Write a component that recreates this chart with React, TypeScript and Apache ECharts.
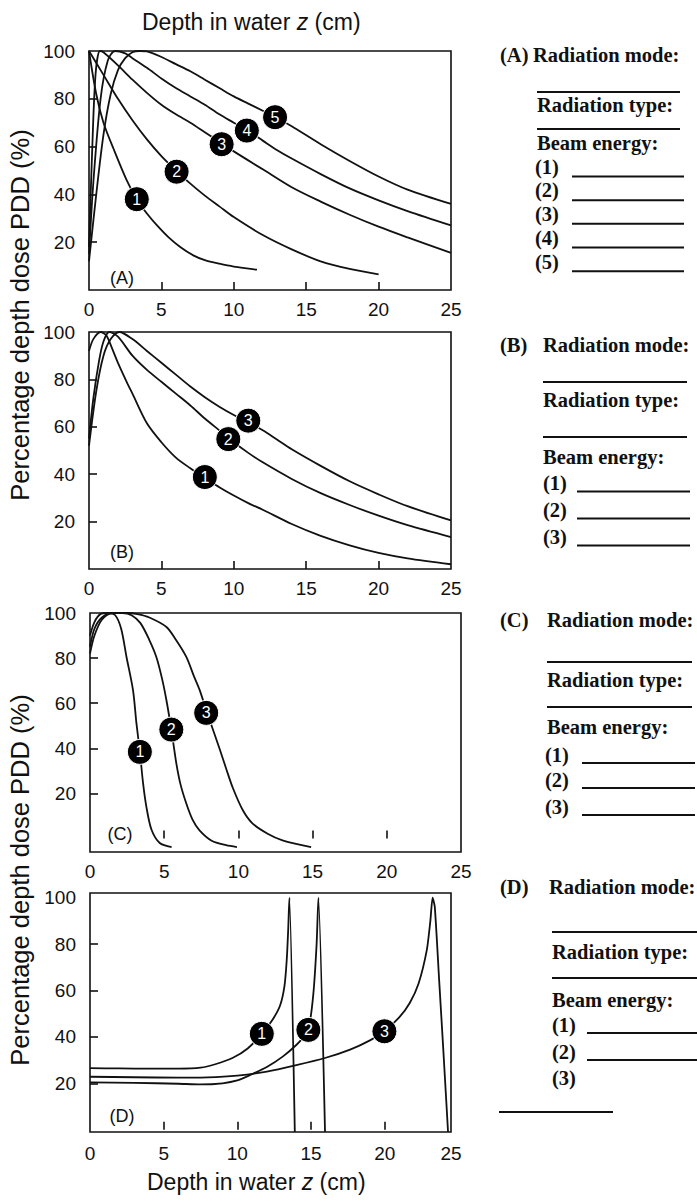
import React, { useEffect, useRef } from "react";
import * as echarts from "echarts";

const SANS = "'Liberation Sans', Arial, Helvetica, sans-serif";
const SERIF = "'Liberation Serif', 'Times New Roman', Times, serif";
const INK = "#111";

// ---------- axis ticks ----------
const xLabelValues = [0, 5, 10, 15, 20, 25];
const xLabelValuesD = [0, 5, 10, 15, 20, 24.5];
const xTickValues = [5, 10, 15, 20];
const yLabelValues = [20, 40, 60, 80, 100];
const yTickValues = [20, 40, 60, 80];

const panelNames = ["(A)", "(B)", "(C)", "(D)"];
const xTitle = "{n|Depth in water }{i|z}{n| (cm)}";
const yTitle = "Percentage depth dose PDD (%)";

// ---------- Panel A (depth cm, PDD %) ----------
const A1: number[][] = [[0, 100], [0.5, 82], [1, 70], [1.7, 59], [2.6, 46], [3.3, 38], [4, 32], [4.7, 27], [5.5, 22], [6.3, 18], [7.2, 14.5], [8, 12.5], [9, 11], [10, 9.8], [11.6, 8.5]];
const A2: number[][] = [[0, 100], [1, 90], [2, 80], [3, 71], [4, 63], [5, 56], [6, 50], [7, 44.5], [8, 39.5], [9, 35], [10, 30.5], [12, 23], [14, 17], [16, 12], [18, 8.8], [20, 6.5]];
const A3: number[][] = [[0, 18], [0.2, 55], [0.45, 90], [0.75, 100], [1, 99.5], [2, 94], [3, 88], [4, 82.5], [5, 77.5], [6, 73.5], [7, 70], [8, 66], [9, 62], [10, 58], [12, 50.5], [14, 43], [16, 37], [18, 31.5], [20, 26.5], [22, 22], [25, 15.5]];
const A4: number[][] = [[0, 15], [0.3, 45], [0.8, 80], [1.3, 96], [1.8, 100], [2.5, 99], [3, 97], [4, 93], [5, 88.5], [6, 84.5], [7, 81], [8, 77.5], [9, 73.5], [10, 70], [11, 66.5], [12, 62.5], [13, 58.5], [14, 55], [16, 48.5], [18, 42.5], [20, 37.5], [22, 33], [25, 27]];
const A5: number[][] = [[0, 12], [0.5, 40], [1, 65], [1.5, 82], [2, 92], [2.5, 97], [3, 99.5], [3.5, 100], [4, 99.8], [5, 97.5], [6, 94.5], [7, 91.5], [8, 88], [9, 84.5], [10, 81], [11, 78], [12, 75], [13, 72], [14, 68.5], [16, 61], [18, 54], [20, 47.5], [22, 42], [25, 36]];
const markersA: (number | string)[][] = [[3.3, 38, "1"], [6.05, 49.5, "2"], [9.16, 61, "3"], [10.9, 66.7, "4"], [12.85, 72.3, "5"]];

// ---------- Panel B ----------
const B1: number[][] = [[0, 92], [0.3, 97], [0.8, 100], [1.2, 98.5], [1.6, 93], [2, 87], [2.6, 79], [3, 74], [4, 61.5], [5, 53.5], [6, 47], [7, 42.5], [8, 38.5], [9, 34.5], [10, 31], [11, 27.8], [12, 25], [14, 19], [16, 14], [18, 10], [20, 6.8], [22, 4.5], [25, 2]];
const B2: number[][] = [[0, 55], [0.3, 72], [0.7, 88], [1, 96], [1.4, 100], [2, 98], [3, 90], [4, 84], [5, 79], [6, 74], [7, 69], [8, 63.5], [9, 58.5], [10, 53.5], [11, 49], [12, 45], [14, 38], [16, 32], [18, 27], [20, 22.5], [22, 18.5], [25, 13.5]];
const B3: number[][] = [[0, 52], [0.5, 75], [1, 90], [1.5, 97], [2.1, 100], [3, 97], [4, 92], [5, 87], [6, 82], [7, 77], [8, 72.5], [9, 68.5], [10, 65], [11, 62], [12, 58.5], [13, 54.5], [14, 50.5], [16, 43.5], [18, 37], [20, 31.5], [22, 26.5], [25, 20.5]];
const markersB: (number | string)[][] = [[8.0, 38.8, "1"], [9.62, 54.8, "2"], [11.0, 62.6, "3"]];

// ---------- Panel C ----------
const C1: number[][] = [[0, 90], [0.3, 96], [0.7, 99.5], [1.2, 100], [1.7, 99], [2.1, 93], [2.46, 80.5], [2.9, 65.7], [3.13, 51], [3.36, 38.5], [3.58, 24.3], [3.8, 14], [4.14, 4], [4.7, -2], [5.5, -3.8]];
const C2: number[][] = [[0, 85], [0.3, 93], [0.8, 98], [1.5, 100], [2.2, 100], [2.8, 99], [3.4, 95.5], [4, 88], [4.47, 80.5], [4.85, 71], [5.15, 61.3], [5.48, 48.3], [5.82, 33.2], [6.1, 24], [6.49, 15.5], [6.9, 8.5], [7.38, 3.6], [8.2, -1], [9.17, -3], [9.9, -3.8]];
const C3: number[][] = [[0, 82], [0.3, 90], [0.8, 97], [1.5, 100], [2.5, 100], [3.2, 99.5], [4, 98], [5.15, 93.8], [5.8, 88], [6.49, 80.5], [7, 72], [7.38, 66], [7.83, 57], [8.3, 48], [8.72, 40], [9.2, 30.5], [9.62, 22.5], [10.3, 12.5], [10.96, 6.6], [12, 2], [12.97, -0.8], [14.9, -3.8]];
const markersC: (number | string)[][] = [[3.36, 38.4, "1"], [5.48, 48.3, "2"], [7.83, 55.7, "3"]];

// ---------- Panel D ----------
const D1: number[][] = [[0, 26.5], [2, 26.4], [4, 26.3], [6, 26.3], [7.5, 26.7], [8.5, 28.2], [9.7, 31], [10.7, 35], [11.66, 41.3], [12.4, 47.5], [12.9, 53.5], [13.2, 62], [13.35, 73], [13.45, 86], [13.53, 100], [13.9, -1]];
const D2: number[][] = [[0, 20.4], [3, 20.2], [6, 19.8], [7.5, 19.5], [9, 20], [10, 21.2], [10.85, 23.5], [12, 27], [13.1, 31.6], [14, 36.5], [14.5, 40], [14.82, 43], [15.15, 58], [15.38, 80], [15.5, 100], [15.95, -1]];
const D3: number[][] = [[0, 22.8], [3, 22.6], [6, 22.4], [8, 22.5], [10, 23.3], [12, 25], [14, 27.8], [16, 31], [17.65, 34.5], [19, 38.5], [19.98, 42.4], [21, 48.5], [21.7, 54.6], [22.3, 63], [22.86, 77.5], [23.1, 90], [23.25, 100], [23.4, 96], [23.7, 64], [24.0, 32], [24.3, -1]];
const markersD: (number | string)[][] = [[11.66, 41.3, "1"], [14.82, 43, "2"], [19.98, 42.4, "3"]];

const panelCurves = [[A1, A2, A3, A4, A5], [B1, B2, B3], [C1, C2, C3], [D1, D2, D3]];
const panelMarkers = [markersA, markersB, markersC, markersD];
const xRanges = [[0, 25], [0, 25], [0, 25], [0, 24.5]];
const yRanges = [[0, 100], [0, 100], [-6, 100], [-1, 102]];
const xLabelSets = [xLabelValues, xLabelValues, xLabelValues, xLabelValuesD];

// ---------- answer form text ----------
const modeLabel = "Radiation mode:";
const typeLabel = "Radiation type:";
const energyLabel = "Beam energy:";
const energyItems = ["(1)", "(2)", "(3)", "(4)", "(5)"];
const energyCounts = [5, 3, 3, 3];

export default function App() {
  const ref = useRef<HTMLDivElement>(null);

  useEffect(() => {
    document.body.style.margin = "0";
    const chart = echarts.init(ref.current!, undefined, { renderer: "svg" });

    const grids = [
      { left: 89, top: 51, width: 362, height: 239 },
      { left: 89, top: 332, width: 362, height: 237 },
      { left: 90, top: 613, width: 371, height: 239 },
      { left: 90, top: 893, width: 361, height: 239 },
    ].map((g) => ({ ...g, show: true, borderColor: INK, borderWidth: 1.6, backgroundColor: "transparent", containLabel: false }));

    const xAxes = grids.map((_, i) => ({
      type: "value",
      gridIndex: i,
      min: xRanges[i][0],
      max: xRanges[i][1],
      splitLine: { show: false },
      axisLine: { show: false },
      axisTick: { show: true, inside: true, length: 8, customValues: xTickValues, lineStyle: { color: INK, width: 1.6 } },
      axisLabel: {
        show: true,
        customValues: xLabelSets[i],
        margin: i === 3 ? 12 : 10,
        fontSize: 19,
        fontFamily: SANS,
        color: INK,
        formatter: (v: number) => String(Math.round(v)),
      },
    }));

    const yAxes = grids.map((_, i) => ({
      type: "value",
      gridIndex: i,
      min: yRanges[i][0],
      max: yRanges[i][1],
      splitLine: { show: false },
      axisLine: { show: false },
      axisTick: { show: true, inside: true, length: 8, customValues: yTickValues, lineStyle: { color: INK, width: 1.6 } },
      axisLabel: { show: true, customValues: yLabelValues, margin: 14, fontSize: 19, fontFamily: SANS, color: INK },
    }));

    const series: any[] = [];
    panelCurves.forEach((curves, p) => {
      curves.forEach((data, k) => {
        series.push({
          type: "line",
          name: `${panelNames[p]} ${k + 1}`,
          xAxisIndex: p,
          yAxisIndex: p,
          data,
          showSymbol: false,
          smooth: p === 3 ? 0.2 : 0.3,
          lineStyle: { color: INK, width: 1.8 },
          clip: true,
          z: 2,
        });
      });
      series.push({
        type: "scatter",
        xAxisIndex: p,
        yAxisIndex: p,
        data: panelMarkers[p],
        symbol: "circle",
        symbolSize: 25,
        itemStyle: { color: "#000", borderColor: "#fff", borderWidth: 1, opacity: 1 },
        label: {
          show: true,
          position: "inside",
          formatter: (d: any) => d.value[2],
          color: "#fff",
          fontSize: 16,
          fontFamily: SANS,
        },
        z: 5,
      });
    });

    const graphic: any[] = [];
    const text = (x: number, y: number, t: string, font: string, align = "left", extra: any = {}) => ({
      type: "text",
      x,
      y,
      silent: true,
      ...extra,
      style: { text: t, font, fill: INK, align, verticalAlign: "middle", textAlign: align, textVerticalAlign: "middle" },
    });
    const hline = (x1: number, x2: number, y: number) => ({
      type: "line",
      silent: true,
      shape: { x1, y1: y, x2, y2: y },
      style: { stroke: INK, lineWidth: 2 },
    });

    // axis titles
    const rich = {
      n: { fontSize: 23, fontFamily: SANS, fill: INK },
      i: { fontSize: 23, fontFamily: SANS, fontStyle: "italic", fill: INK },
    };
    graphic.push({ type: "text", x: 142, y: 22, silent: true, style: { text: xTitle, rich, align: "left", verticalAlign: "middle", fill: INK } });
    graphic.push({ type: "text", x: 147, y: 1182, silent: true, style: { text: xTitle, rich, align: "left", verticalAlign: "middle", fill: INK } });
    graphic.push(text(20, 315, yTitle, `25.5px ${SANS}`, "center", { rotation: Math.PI / 2 }));
    graphic.push(text(20, 880, yTitle, `25.5px ${SANS}`, "center", { rotation: Math.PI / 2 }));

    // panel letters
    const letterPos = [[122, 278], [122, 552], [120, 834], [122, 1116]];
    letterPos.forEach(([x, y], i) => graphic.push(text(x, y, panelNames[i], `18px ${SANS}`, "center")));

    // answer form on the right
    const B = `bold 20.5px ${SERIF}`;
    const forms = [
      { head: 55, modeX: 533, x: 537, lineR: 680, l1: 92, type: 105, l2: 129, energy: 143, itemX: 535, itemY: [166.7, 190.4, 214, 237.8, 261.5], ansX: [572, 684], ansOff: 9.8 },
      { head: 345, modeX: 543, x: 543, lineR: 687, l1: 382, type: 400, l2: 437, energy: 457, itemX: 543, itemY: [483, 510, 537], ansX: [577, 690], ansOff: 8.5 },
      { head: 620, modeX: 547, x: 547, lineR: 692, l1: 662, type: 680, l2: 707, energy: 727, itemX: 545, itemY: [755, 780, 807], ansX: [582, 695], ansOff: 8 },
      { head: 887, modeX: 549, x: 552, lineR: 697, l1: 932, type: 952, l2: 978, energy: 1000, itemX: 552, itemY: [1025, 1052, 1078], ansX: [587, 697], ansOff: 8 },
    ];
    forms.forEach((f, i) => {
      graphic.push(text(500, f.head, panelNames[i], B));
      graphic.push(text(f.modeX, f.head, modeLabel, B));
      graphic.push(hline(f.x, f.lineR, f.l1));
      graphic.push(text(f.x, f.type, typeLabel, B));
      graphic.push(hline(f.x, f.lineR, f.l2));
      graphic.push(text(f.x, f.energy, energyLabel, B));
      for (let k = 0; k < energyCounts[i]; k++) {
        const y = f.itemY[k];
        graphic.push(text(f.itemX, y, energyItems[k], B));
        if (!(i === 3 && k === 2)) graphic.push(hline(f.ansX[0], f.ansX[1], y + f.ansOff));
      }
    });
    graphic.push(hline(499, 613, 1112));

    chart.setOption({
      animation: false,
      backgroundColor: "#fff",
      grid: grids,
      xAxis: xAxes,
      yAxis: yAxes,
      series,
      graphic,
    });

    return () => chart.dispose();
  }, []);

  return <div ref={ref} style={{ width: 697, height: 1204 }} />;
}
